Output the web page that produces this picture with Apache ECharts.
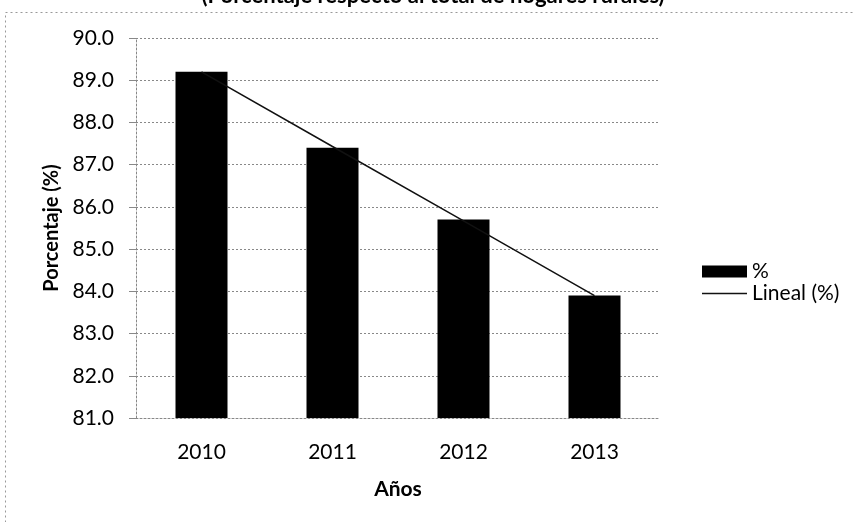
<!DOCTYPE html>
<html>
<head>
<meta charset="utf-8">
<script src="https://cdn.jsdelivr.net/npm/echarts@6/dist/echarts.min.js"></script>
<style>
  html, body { margin: 0; padding: 0; background: #fff; }
  #chart { width: 853px; height: 522px; }
</style>
</head>
<body>
<div id="chart"></div>
<script>
// Rural households share by year
const years = ['2010', '2011', '2012', '2013'];
const pctValues = [89.2, 87.4, 85.7, 83.9];
// Linear trend line values at each year
const trendValues = [89.2, 87.43, 85.67, 83.9];
const yTicks = { min: 81, max: 90, step: 1 };

const FONT = 'Lato, "Open Sans", sans-serif';
const gridDash = [2, 2];
const legendText = { fontFamily: FONT, fontSize: 21, color: '#000' };

const chart = echarts.init(document.getElementById('chart'), null, { renderer: 'canvas' });

chart.setOption({
  backgroundColor: '#ffffff',
  animation: false,
  graphic: [
    {
      type: 'rect',
      shape: { x: 5.5, y: 12.5, width: 900, height: 600 },
      style: { fill: 'none', stroke: '#999', lineWidth: 1, lineDash: [2, 3] },
      silent: true, z: -1
    },
    {
      type: 'text',
      x: 433, y: -4,
      style: {
        text: '(Porcentaje respecto al total de hogares rurales)',
        font: 'bold 22px ' + FONT,
        fill: '#000',
        align: 'center',
        verticalAlign: 'middle'
      },
      z: 10
    }
  ],
  legend: [
    {
      orient: 'vertical',
      left: 697,
      top: 256,
      itemWidth: 45,
      itemHeight: 12,
      textStyle: legendText,
      data: [{ name: '%', icon: 'rect' }]
    },
    {
      orient: 'vertical',
      left: 697,
      top: 278,
      itemWidth: 45,
      itemHeight: 1.5,
      textStyle: legendText,
      data: [{ name: 'Lineal (%)', icon: 'rect' }]
    }
  ],
  grid: { left: 136, right: 193, top: 38, bottom: 104, containLabel: false },
  xAxis: {
    type: 'category',
    data: years,
    name: 'Años',
    nameLocation: 'middle',
    nameGap: 61,
    nameTextStyle: { fontFamily: FONT, fontSize: 21, fontWeight: 'bold', color: '#000' },
    axisLine: { lineStyle: { color: '#888', type: gridDash } },
    axisTick: { show: false },
    axisLabel: { fontFamily: FONT, fontSize: 21, color: '#000', margin: 24 }
  },
  yAxis: {
    type: 'value',
    min: yTicks.min,
    max: yTicks.max,
    interval: yTicks.step,
    name: 'Porcentaje (%)',
    nameLocation: 'middle',
    nameGap: 73,
    nameTextStyle: { fontFamily: FONT, fontSize: 20, fontWeight: 'bold', color: '#000' },
    axisLine: { show: true, lineStyle: { color: '#888', type: gridDash } },
    axisTick: { show: true, length: 7, lineStyle: { color: '#888' } },
    axisLabel: {
      fontFamily: FONT, fontSize: 21, color: '#000', margin: 22,
      formatter: v => v.toFixed(1)
    },
    splitLine: { show: true, lineStyle: { color: '#888', type: gridDash } }
  },
  series: [
    {
      name: '%',
      type: 'bar',
      data: pctValues,
      barWidth: 52,
      itemStyle: { color: '#000' }
    },
    {
      name: 'Lineal (%)',
      type: 'line',
      data: trendValues,
      symbol: 'none',
      lineStyle: { color: '#111', width: 1.5 },
      itemStyle: { color: '#111' },
      z: 5
    }
  ]
});
</script>
</body>
</html>
